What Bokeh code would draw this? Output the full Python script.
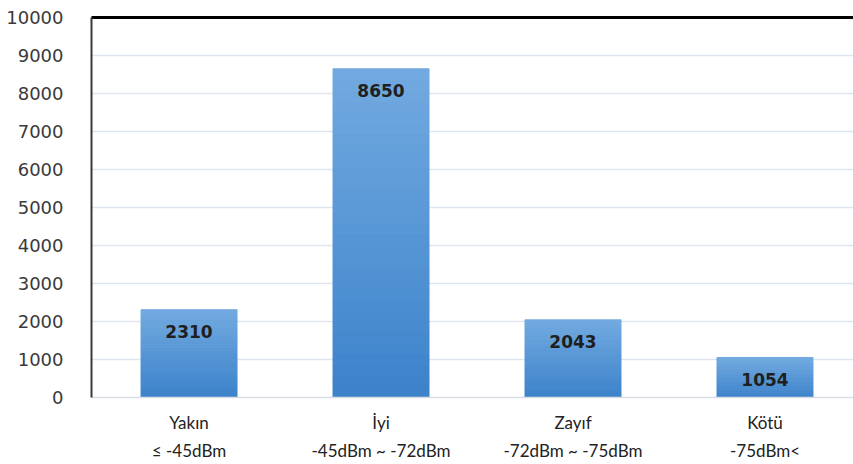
from bokeh.plotting import figure
from bokeh.models import LinearAxis, ColumnDataSource, FixedTicker, Range1d
from bokeh.core.properties import value
from bokeh.embed import file_html
from bokeh.resources import INLINE

categories = ["Yakın\n≤ -45dBm", "İyi\n-45dBm ~ -72dBm", "Zayıf\n-72dBm ~ -75dBm", "Kötü\n-75dBm<"]
counts = [2310, 8650, 2043, 1054]
y_ticks = [0, 1000, 2000, 3000, 4000, 5000, 6000, 7000, 8000, 9000, 10000]

xs = list(range(len(categories)))

p = figure(width=853, height=464, output_backend="svg", toolbar_location=None,
           x_range=Range1d(-0.508, 3.461), y_range=Range1d(0, 10000),
           min_border_left=91, min_border_right=0, min_border_top=17, min_border_bottom=66)
p.background_fill_color = "white"
p.border_fill_color = "white"
p.outline_line_color = None

# gradient bars: each bar split into bands from its own value
N = 30
top_rgb = (0x72, 0xaa, 0xe0)
bot_rgb = (0x3c, 0x82, 0xca)
lefts, rights, bottoms, tops, colors = [], [], [], [], []
for x, v in zip(xs, counts):
    for k in range(N):
        f = (k + 0.5) / N
        c = tuple(int(round(bot_rgb[i] + (top_rgb[i] - bot_rgb[i]) * f)) for i in range(3))
        lefts.append(x - 0.25)
        rights.append(x + 0.25)
        bottoms.append(v * k / N)
        tops.append(v * (k + 1) / N)
        colors.append("#%02x%02x%02x" % c)
src = ColumnDataSource(dict(left=lefts, right=rights, bottom=bottoms, top=tops, color=colors))
p.quad(left="left", right="right", bottom="bottom", top="top", fill_color="color",
       line_color="color", line_width=1, source=src)

lab = ColumnDataSource(dict(x=xs, y=counts, t=[str(c) for c in counts]))
p.text(x="x", y="y", text="t", source=lab, text_align="center", text_baseline="middle",
       y_offset=22, text_font=value("DejaVu Sans"), text_font_style="bold",
       text_font_size="17px", text_color="#1f1f1f")

# y axis
p.yaxis.ticker = FixedTicker(ticks=y_ticks)
p.yaxis.axis_line_color = "#3a3a3a"
p.yaxis.axis_line_width = 2
p.yaxis.major_tick_line_color = None
p.yaxis.minor_tick_line_color = None
p.yaxis.major_label_text_font = "DejaVu Sans"
p.yaxis.major_label_text_font_size = "18px"
p.yaxis.major_label_text_color = "#3a3a3a"
p.yaxis.major_label_standoff = 22

# x axis
p.xaxis.ticker = FixedTicker(ticks=xs)
p.xaxis.major_label_overrides = {i: c for i, c in zip(xs, categories)}
p.xaxis.axis_line_color = "#d9dde3"
p.xaxis.axis_line_width = 1.5
p.xaxis.major_tick_line_color = None
p.xaxis.minor_tick_line_color = None
p.xaxis.major_label_text_font = "Lato"
p.xaxis.major_label_text_font_size = "17px"
p.xaxis.major_label_text_color = "#222222"
p.xaxis.major_label_standoff = 8
p.xaxis.major_label_text_line_height = 1.38

# top black line
top_axis = LinearAxis(ticker=FixedTicker(ticks=[]), axis_line_color="black", axis_line_width=3,
                      major_tick_line_color=None, minor_tick_line_color=None,
                      major_label_text_font_size="0px")
p.add_layout(top_axis, "above")

p.xgrid.grid_line_color = None
p.ygrid.ticker = FixedTicker(ticks=y_ticks)
p.ygrid.grid_line_color = "#dfe5ee"
p.ygrid.grid_line_width = 1.5

open("out.html", "w").write(file_html(p, INLINE))
